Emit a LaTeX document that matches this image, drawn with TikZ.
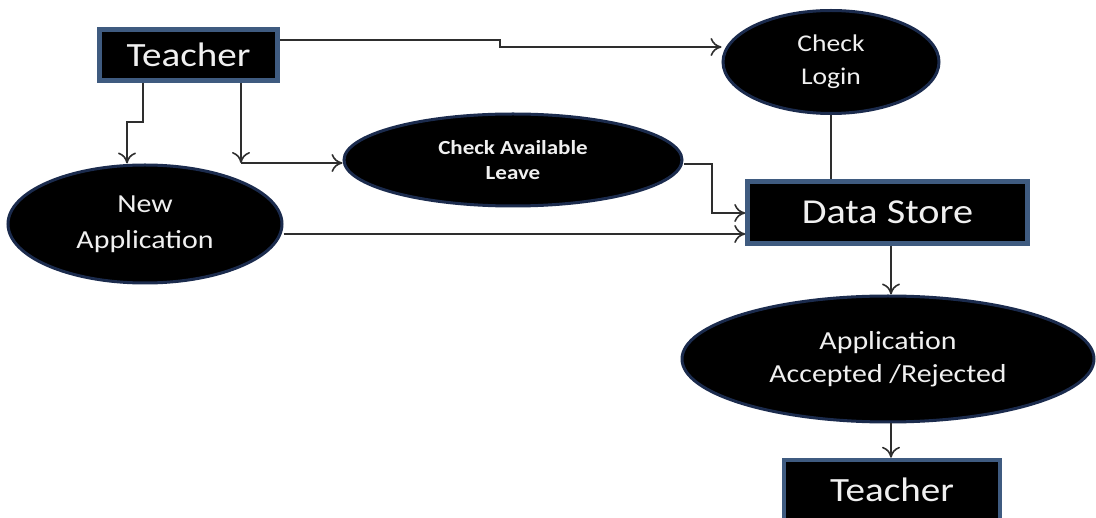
\documentclass[tikz,border=0pt]{standalone}
\usepackage{fontspec}
\setmainfont{Carlito}[FakeStretch=1.15]
\usetikzlibrary{arrows.meta,shapes.geometric}

\definecolor{boxrim}{HTML}{3F5B80}
\definecolor{ovalrim}{HTML}{1B2B4D}
\definecolor{wire}{HTML}{2E2E2E}
\definecolor{label}{HTML}{F0F0F0}

\tikzset{
  entity/.style={rectangle, fill=black, draw=boxrim, line width=4.5pt,
    text=label, inner sep=0pt, anchor=center},
  process/.style={ellipse, fill=black, draw=ovalrim, line width=3pt,
    text=label, inner sep=0pt, align=center, anchor=center},
  flow/.style={draw=wire, line width=1.6pt,
    -{To[length=11pt,width=18pt,line width=1.6pt]}},
  link/.style={draw=wire, line width=1.6pt}
}

\begin{document}
\begin{tikzpicture}[x=1pt,y=-1pt]
  \fill[white] (0,0) rectangle (1096,518);
  \clip (0,0) rectangle (1096,518);
  \useasboundingbox (0,0) rectangle (1096,518);

  % external entities
  \node[entity, minimum width=178pt, minimum height=51pt,
        font=\fontsize{34}{40}\selectfont] (t1) at (188.5,55) {Teacher};
  \node[entity, minimum width=280pt, minimum height=62pt,
        font=\fontsize{35}{40}\selectfont] (ds) at (887.5,212.5) {Data Store};
  \node[entity, minimum width=216pt, minimum height=80pt] (t2) at (892,500) {};
  \node[text=label, font=\fontsize{34}{40}\selectfont] (t2l) at (892,490) {Teacher};

  % processes
  \node[process, minimum width=216pt, minimum height=103pt,
        font=\fontsize{24}{33}\selectfont] (cl) at (831,62) {Check\\Login};
  \node[process, minimum width=338pt, minimum height=92pt,
        font=\bfseries\fontsize{20}{25}\selectfont] (cal) at (513,160) {Check Available\\Leave};
  \node[process, minimum width=274pt, minimum height=118pt,
        font=\fontsize{26}{36}\selectfont] (na) at (145,224) {New\\Application};
  \node[process, minimum width=412pt, minimum height=126pt,
        font=\fontsize{26}{33}\selectfont] (ar) at (888,359) {Application\\Accepted /Rejected};

  % bend points
  \coordinate (a1) at (500,40);
  \coordinate (a2) at (500,47);
  \coordinate (b1) at (143,122);
  \coordinate (b2) at (127,122);
  \coordinate (c1) at (241,163);
  \coordinate (d1) at (712,164);
  \coordinate (d2) at (712,213);
  \coordinate (e1) at (0,234);
  \coordinate (f1) at (891,0);

  % data flows
  \draw[flow] (t1.east |- a1) -- (a1) -- (a2) -- (cl.west |- a2);
  \draw[flow] (b1 |- t1.south) -- (b1) -- (b2) -- (b2 |- na.north);
  \draw[flow] (c1 |- t1.south) -- (c1);
  \draw[flow] (c1) -- (cal.west |- c1);
  \draw[flow] (cal.east |- d1) -- (d1) -- (d2) -- (ds.west |- d2);
  \draw[flow] (na.east |- e1) -- (ds.west |- e1);
  \draw[link] (cl.south) -- (cl.south |- ds.north);
  \draw[flow] (f1 |- ds.south) -- (f1 |- ar.north);
  \draw[flow] (f1 |- ar.south) -- (f1 |- t2.north);
\end{tikzpicture}
\end{document}
